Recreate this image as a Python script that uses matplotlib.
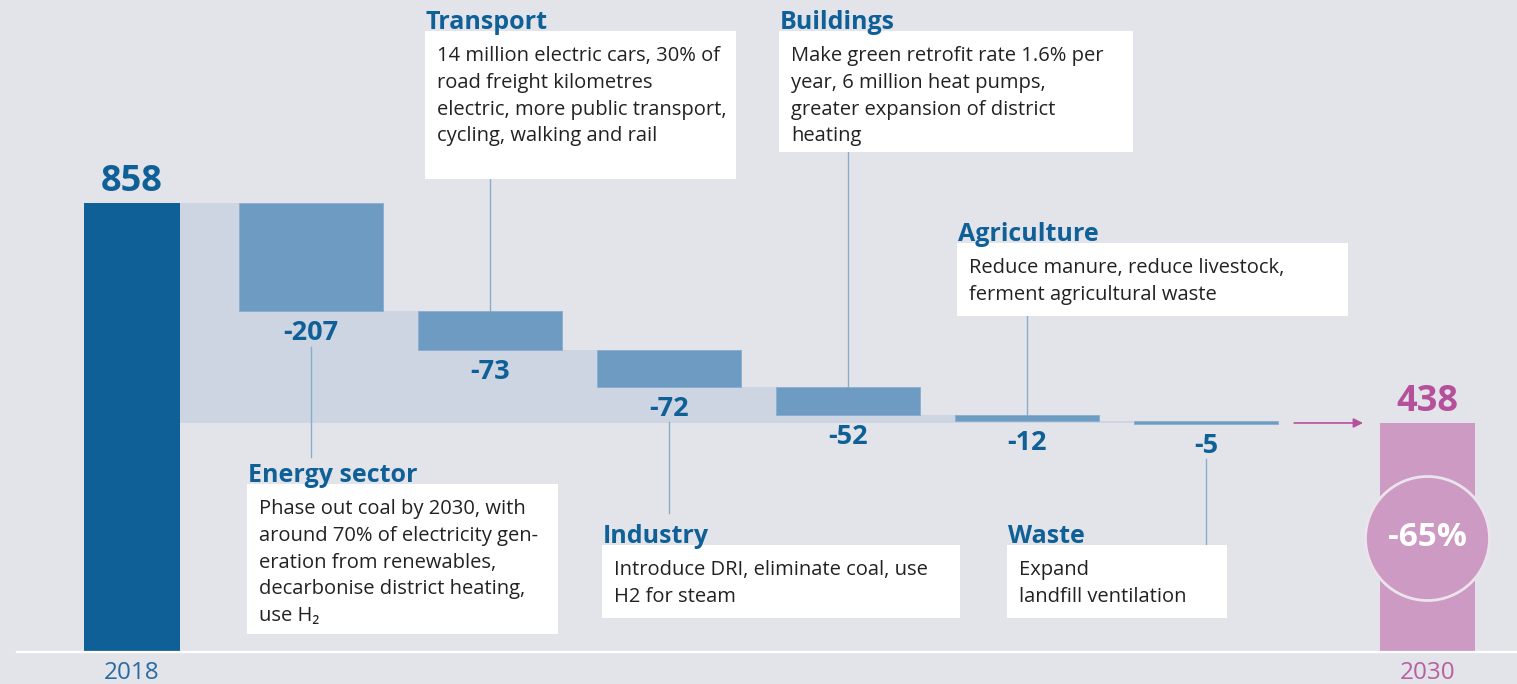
import matplotlib.pyplot as plt
import matplotlib.transforms as mtransforms
from matplotlib.patches import Rectangle
import numpy as np

plt.rcParams['font.family'] = ['Open Sans', 'DejaVu Sans']

W, H = 1517, 684

# data
start_label, end_label = "2018", "2030"
start_value, end_value = 858, 438
sectors = ["Energy sector", "Transport", "Industry", "Buildings", "Agriculture", "Waste"]
changes = [-207, -73, -72, -52, -12, -5]
reduction = "-65%"
notes = [
    ["Phase out coal by 2030, with", "around 70% of electricity gen-",
     "eration from renewables,", "decarbonise district heating,", "use H\u2082"],
    ["14 million electric cars, 30% of", "road freight kilometres",
     "electric, more public transport,", "cycling, walking and rail"],
    ["Introduce DRI, eliminate coal, use", "H2 for steam"],
    ["Make green retrofit rate 1.6% per", "year, 6 million heat pumps,",
     "greater expansion of district", "heating"],
    ["Reduce manure, reduce livestock,", "ferment agricultural waste"],
    ["Expand", "landfill ventilation"],
]

# colours
bg = "#e3e4ea"
dark_blue = "#106098"
step_blue = "#6e9bc1"
band = "#cdd5e3"
pink_bar = "#cc9ac2"
pink_text = "#b5509b"
lead = "#8aaccb"
body = "#222222"

# annotation boxes in pixels (x0, y0, x1, y1), leader end for boxes below
boxes = {
    "Energy sector": ((247, 484, 558, 634), 457),
    "Transport": ((425, 31, 736, 179), None),
    "Industry": ((602, 545, 960, 618), 513),
    "Buildings": ((779, 31, 1133, 152), None),
    "Agriculture": ((957, 243, 1348, 316), None),
    "Waste": ((1007, 545, 1227, 618), 545),
}

fig = plt.figure(figsize=(W / 100, H / 100), dpi=100)
fig.patch.set_facecolor(bg)
ax = fig.add_axes([0, 0, 1, 1])
ax.set_facecolor(bg)
ax.set_xlim(-0.737, 7.737)
ax.set_ylim(-60.3, 1245.5)
ax.axis('off')

pix = mtransforms.Affine2D().scale(1, -1).translate(0, H)
inv = ax.transData.inverted()


def ydata(py):
    return inv.transform((0, H - py))[1]


x_start, x_end = 0, 7.237
xs = np.arange(1, len(changes) + 1)
levels = start_value + np.cumsum([0] + changes)

# light band behind steps
band_x = [0.268] + list(xs - 0.402)
band_top = list(levels[:-1]) + [levels[-2]]
ax.fill_between(band_x, end_value, band_top, step='post', color=band, lw=0, zorder=1)

ax.bar(x_start, start_value, width=0.536, color=dark_blue, zorder=2)
ax.bar(x_end, end_value, width=0.53, color=pink_bar, zorder=2)
ax.bar(xs, -np.array(changes), bottom=levels[1:], width=0.804,
       color=step_blue, edgecolor="#88add0", lw=0.6, zorder=2)

ax.plot([-0.642, 7.8], [0, 0], color='white', lw=1.6, zorder=3)

# totals and years
ax.annotate(str(start_value), (x_start, start_value), xytext=(0, 12),
            textcoords='offset pixels', ha='center', va='baseline',
            fontsize=26, fontweight='bold', color=dark_blue)
ax.annotate(str(end_value), (x_end, end_value), xytext=(0, 12),
            textcoords='offset pixels', ha='center', va='baseline',
            fontsize=26, fontweight='bold', color=pink_text)
ax.annotate(start_label, (x_start, 0), xytext=(0, -27), textcoords='offset pixels',
            ha='center', va='baseline', fontsize=17.5, color="#2a6aa3")
ax.annotate(end_label, (x_end, 0), xytext=(0, -27), textcoords='offset pixels',
            ha='center', va='baseline', fontsize=17.5, color="#b8609f")

# arrow to 2030
ax.annotate('', xy=(6.877, end_value), xytext=(6.492, end_value),
            arrowprops=dict(arrowstyle='-|>', color=pink_text, lw=1.2,
                            mutation_scale=14, shrinkA=0, shrinkB=0))

# circle with reduction
ax.scatter([x_end], [ydata(538)], s=(2 * 62 / 1.389) ** 2, color=pink_bar,
           edgecolor="#ece4ec", lw=2, zorder=4)
ax.text(x_end, ydata(538), reduction, ha='center', va='center', fontsize=24,
        fontweight='bold', color='white', zorder=5)

# step labels, leaders and notes
for i, (name, c) in enumerate(zip(sectors, changes)):
    x = xs[i]
    ax.annotate(str(c), (x, levels[i + 1]), xytext=(0, -29), textcoords='offset pixels',
                ha='center', va='baseline', fontsize=19.5, fontweight='bold',
                color=dark_blue, zorder=5)
    (x0, y0, x1, y1), end_py = boxes[name]
    if end_py is None:
        ax.plot([x, x], [ydata(y1), levels[i]], color=lead, lw=1, zorder=1.5)
    else:
        ax.plot([x, x], [levels[i + 1] - 67, ydata(end_py)], color=lead, lw=1, zorder=1.5)
    fig.patches.append(Rectangle((x0, y0), x1 - x0, y1 - y0, transform=pix,
                                 facecolor='white', edgecolor='none', zorder=6))
    fig.text(x0 + 1, y0 - 2, name, transform=pix, ha='left', va='baseline',
             fontsize=18, fontweight='bold', color=dark_blue, zorder=8)
    for k, line in enumerate(notes[i]):
        fig.text(x0 + 12, y0 + 30 + k * 26.8, line, transform=pix, ha='left',
                 va='baseline', fontsize=14.5, color=body, zorder=8)

fig.savefig("out.png", dpi=100, facecolor=bg)
